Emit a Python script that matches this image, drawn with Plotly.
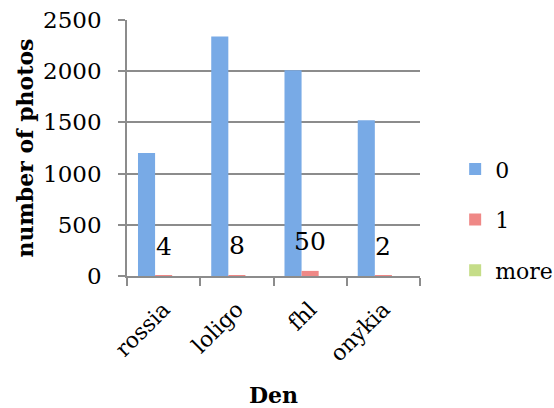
import plotly.graph_objects as go

categories = ["rossia", "loligo", "fhl", "onykia"]
series_names = ["0", "1", "more"]
values_0 = [1200, 2340, 2010, 1520]
values_1 = [4, 8, 50, 2]
values_more = [0, 0, 0, 0]
label_texts = ["4", "8", "50", "2"]
y_ticks = [0, 500, 1000, 1500, 2000, 2500]

colors = ["#78AAE6", "#EF8886", "#C5DD88"]
FONT = "DejaVu Serif"

fig = go.Figure()
for name, vals, col in zip(series_names, [values_0, values_1, values_more], colors):
    fig.add_trace(go.Bar(
        x=categories, y=vals, name=name, marker=dict(color=col, line=dict(width=0)),
        legendgroup=name,
    ))

for cat, v, t in zip(categories, values_1, label_texts):
    fig.add_annotation(x=cat, y=v, text=t, showarrow=False, yanchor="bottom",
                       yshift=13, font=dict(family=FONT, size=25, color="black"))

fig.update_layout(
    width=554, height=408,
    margin=dict(l=127, r=134, t=20, b=132, autoexpand=False),
    paper_bgcolor="white", plot_bgcolor="white",
    barmode="group", bargap=0.30, bargroupgap=0,
    font=dict(family=FONT, size=21, color="black"),
    legend=dict(x=1.12, y=0.22, xanchor="left", yanchor="middle",
                font=dict(family=FONT, size=22), tracegroupgap=19,
                itemwidth=30, bgcolor="rgba(0,0,0,0)"),
    showlegend=True,
)
fig.update_yaxes(
    range=[0, 2500], tickvals=y_ticks, showgrid=True, gridcolor="#8C8C8C", gridwidth=1.5,
    showline=True, linecolor="#8C8C8C", linewidth=1.5, ticks="outside", ticklen=7,
    tickcolor="#8C8C8C", tickwidth=1.5, zeroline=False, automargin=False,
    ticklabelstandoff=12,
    title=dict(text="<b>number of photos</b>", font=dict(family=FONT, size=22), standoff=3),
    tickfont=dict(family=FONT, size=23),
)
fig.update_xaxes(
    showline=True, linecolor="#8C8C8C", linewidth=1.5, ticks="outside", ticklen=8,
    tickcolor="#8C8C8C", tickwidth=1.5, tickson="boundaries", tickangle=-45,
    tickfont=dict(family=FONT, size=22), automargin=False, ticklabelstandoff=10,
    title=dict(text="<b>Den</b>", font=dict(family=FONT, size=22), standoff=22),
)

fig.write_html("out.html", config={"displayModeBar": False},
               post_script="document.body.style.margin='0';")
